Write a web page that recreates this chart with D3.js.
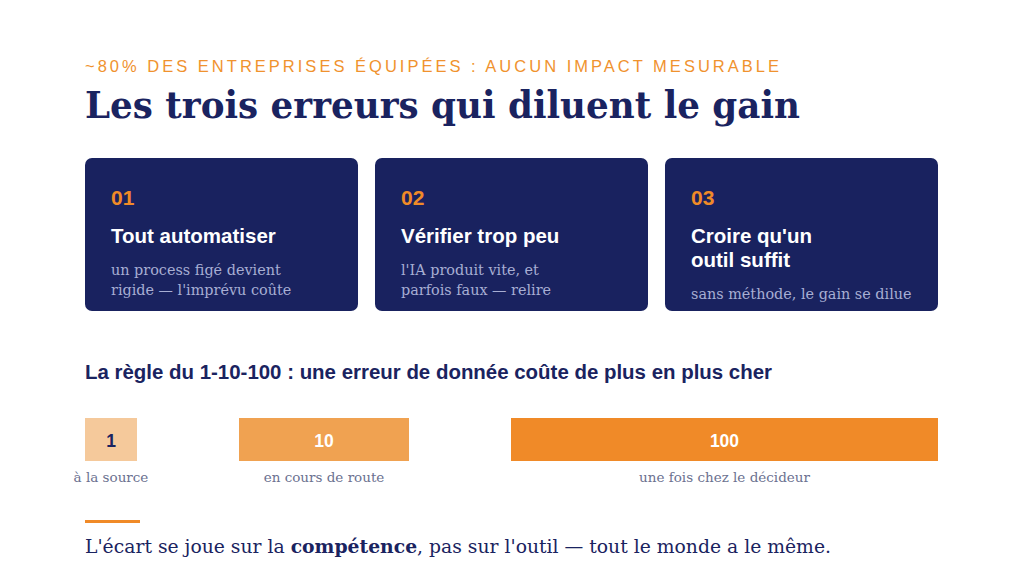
<!DOCTYPE html>
<html>
<head>
<meta charset="utf-8">
<script src="https://cdn.jsdelivr.net/npm/d3@7"></script>
<style>
  html, body { margin: 0; padding: 0; background: #fff; }
  svg { display: block; }
</style>
</head>
<body>
<div id="chart"></div>
<script>
// data
const kicker = '~80% DES ENTREPRISES ÉQUIPÉES : AUCUN IMPACT MESURABLE';
const title = 'Les trois erreurs qui diluent le gain';

const cardNumbers = ['01', '02', '03'];
const cardTitles = [
  ['Tout automatiser'],
  ['Vérifier trop peu'],
  ["Croire qu'un", 'outil suffit'],
];
const cardNotes = [
  ['un process figé devient', "rigide — l'imprévu coûte"],
  ["l'IA produit vite, et", 'parfois faux — relire'],
  ['sans méthode, le gain se dilue'],
];

const ruleTitle = 'La règle du 1-10-100 : une erreur de donnée coûte de plus en plus cher';
const costStages = ['à la source', 'en cours de route', 'une fois chez le décideur'];
const costValues = [1, 10, 100];

const footerParts = [
  { text: "L'écart se joue sur la ", bold: false },
  { text: 'compétence', bold: true },
  { text: ", pas sur l'outil — tout le monde a le même.", bold: false },
];

// options
const width = 1024;
const height = 576;
const left = 85;
const right = 938;
const navy = '#1a2360';
const orange = '#f08a28';
const serif = '"DejaVu Serif", serif';
const sans = '"Liberation Sans", Arial, sans-serif';

const svg = d3.select('#chart')
  .append('svg')
  .attr('width', width)
  .attr('height', height)
  .attr('viewBox', [0, 0, width, height]);

svg.append('rect')
  .attr('width', width)
  .attr('height', height)
  .attr('fill', '#fff');

// header
svg.append('text')
  .attr('x', left)
  .attr('y', 72)
  .attr('fill', '#f0922e')
  .attr('font-family', sans)
  .attr('font-size', 16.5)
  .attr('textLength', 694)
  .text(kicker);

svg.append('text')
  .attr('x', left)
  .attr('y', 118)
  .attr('fill', navy)
  .attr('font-family', serif)
  .attr('font-weight', 'bold')
  .attr('font-size', 38)
  .attr('textLength', 715)
  .attr('lengthAdjust', 'spacingAndGlyphs')
  .text(title);

// cards
const x = d3.scaleBand()
  .domain(cardNumbers)
  .range([left, right])
  .paddingInner(0.0586)
  .paddingOuter(0);

const cardTop = 158;
const cardHeight = 153;

const cards = svg.append('g')
  .attr('class', 'cards')
  .selectAll('g')
  .data(cardNumbers.map((n, i) => ({ n, title: cardTitles[i], notes: cardNotes[i] })))
  .join('g')
  .attr('transform', (d) => `translate(${x(d.n)},${cardTop})`);

cards.append('rect')
  .attr('width', x.bandwidth())
  .attr('height', cardHeight)
  .attr('rx', 7)
  .attr('fill', '#19225f');

cards.append('text')
  .attr('x', 26)
  .attr('y', 47)
  .attr('fill', orange)
  .attr('font-family', sans)
  .attr('font-weight', 'bold')
  .attr('font-size', 21)
  .text((d) => d.n);

cards.append('text')
  .attr('fill', '#fff')
  .attr('font-family', sans)
  .attr('font-weight', 'bold')
  .attr('font-size', 20.5)
  .selectAll('tspan')
  .data((d) => d.title)
  .join('tspan')
  .attr('x', 26)
  .attr('y', (_, i) => 85 + i * 24)
  .text((d) => d);

cards.append('text')
  .attr('fill', '#a7aed3')
  .attr('font-family', serif)
  .attr('font-size', 14.4)
  .selectAll('tspan')
  .data((d) => d.notes.map((t) => ({ t, offset: (d.title.length - 1) * 24 })))
  .join('tspan')
  .attr('x', 26)
  .attr('y', (d, i) => 117 + d.offset + i * 19.5)
  .text((d) => d.t);

// 1-10-100 rule
svg.append('text')
  .attr('x', left)
  .attr('y', 379)
  .attr('fill', navy)
  .attr('font-family', sans)
  .attr('font-weight', 'bold')
  .attr('font-size', 20)
  .attr('textLength', 687)
  .attr('lengthAdjust', 'spacingAndGlyphs')
  .text(ruleTitle);

const w = d3.scaleLinear()
  .domain([1, 10, 100])
  .range([52, 170, 427]);

const color = d3.scaleOrdinal()
  .domain(costValues)
  .range(['#f5c99b', '#f0a251', orange]);

const gap = 102;
const barTop = 418;
const barHeight = 43;

let cursor = left;
const bars = costValues.map((v, i) => {
  const bar = { v, label: costStages[i], x: cursor, w: w(v) };
  cursor += bar.w + gap;
  return bar;
});

const barG = svg.append('g')
  .attr('class', 'bars')
  .selectAll('g')
  .data(bars)
  .join('g');

barG.append('rect')
  .attr('x', (d) => d.x)
  .attr('y', barTop)
  .attr('width', (d) => d.w)
  .attr('height', barHeight)
  .attr('fill', (d) => color(d.v));

barG.append('text')
  .attr('x', (d) => d.x + d.w / 2)
  .attr('y', barTop + 29)
  .attr('text-anchor', 'middle')
  .attr('fill', (d, i) => (i === 0 ? navy : '#fff'))
  .attr('font-family', sans)
  .attr('font-weight', 'bold')
  .attr('font-size', 17.5)
  .text((d) => d.v);

barG.append('text')
  .attr('x', (d) => d.x + d.w / 2)
  .attr('y', 482)
  .attr('text-anchor', 'middle')
  .attr('fill', '#6b7190')
  .attr('font-family', serif)
  .attr('font-size', 13.5)
  .text((d) => d.label);

// footer
svg.append('rect')
  .attr('x', left)
  .attr('y', 520)
  .attr('width', 55)
  .attr('height', 3)
  .attr('fill', orange);

svg.append('text')
  .attr('x', left)
  .attr('y', 553)
  .attr('fill', navy)
  .attr('font-family', serif)
  .attr('font-size', 19)
  .attr('textLength', 746)
  .attr('lengthAdjust', 'spacingAndGlyphs')
  .selectAll('tspan')
  .data(footerParts)
  .join('tspan')
  .attr('font-weight', (d) => (d.bold ? 'bold' : 'normal'))
  .text((d) => d.text);
</script>
</body>
</html>
